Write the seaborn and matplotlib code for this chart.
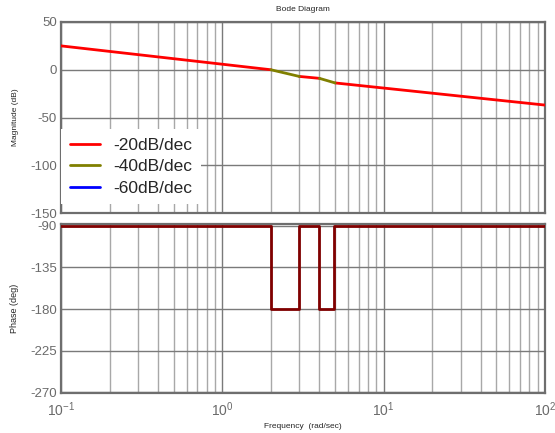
import numpy as np
import pandas as pd
import matplotlib
matplotlib.use("Agg")
import matplotlib.pyplot as plt
from matplotlib.lines import Line2D
from matplotlib.ticker import LogLocator, FixedLocator
import seaborn as sns

# --- DATA ---
mag_freq = [0.1, 2.0, 3.0, 4.0, 5.0, 100.0]
mag_db = [25.0, 0.0, -7.0, -9.0, -13.8, -37.0]
seg_slope = ["-20dB/dec", "-40dB/dec", "-20dB/dec", "-40dB/dec", "-20dB/dec"]

phase_freq = [0.1, 2.0, 3.0, 4.0, 4.9, 100.0]
phase_deg = [-90, -180, -90, -180, -90, -90]

legend_labels = ["-20dB/dec", "-40dB/dec", "-60dB/dec"]
slope_colors = {"-20dB/dec": "#ff0000", "-40dB/dec": "#808000", "-60dB/dec": "#0000ff"}

mag_ticks = [50, 0, -50, -100, -150]
phase_ticks = [-90, -135, -180, -225, -270]

# --- STYLE ---
sns.set_style("white")
plt.rcParams["font.family"] = ["Liberation Sans", "DejaVu Sans"]
plt.rcParams["axes.unicode_minus"] = False
plt.rcParams["mathtext.fontset"] = "custom"
plt.rcParams["mathtext.rm"] = "Liberation Sans"
plt.rcParams["mathtext.it"] = "Liberation Sans:italic"
plt.rcParams["mathtext.bf"] = "Liberation Sans:bold"

TICK_C = "#6a6a6a"
SPINE_C = "#6e6e6e"
MAJOR_C = "#7a7a7a"
MINOR_C = "#a8a8a8"

# build segment table for the magnitude plot
rows = []
for i, s in enumerate(seg_slope):
    rows.append((mag_freq[i], mag_db[i], i, s))
    rows.append((mag_freq[i + 1], mag_db[i + 1], i, s))
mag_df = pd.DataFrame(rows, columns=["freq", "mag", "seg", "slope"])

fig = plt.figure(figsize=(5.55, 4.33), dpi=100)
W, H = 555, 433
L, R = 61, 545
ax1 = fig.add_axes([L / W, 1 - 213 / H, (R - L) / W, (213 - 22) / H])
ax2 = fig.add_axes([L / W, 1 - 393.3 / H, (R - L) / W, (393.3 - 224.3) / H])

sns.lineplot(data=mag_df, x="freq", y="mag", hue="slope", units="seg",
             estimator=None, sort=False, palette=slope_colors, lw=2,
             legend=False, ax=ax1, zorder=3)
sns.lineplot(x=phase_freq, y=phase_deg, drawstyle="steps-post",
             color="#800000", lw=2, ax=ax2, zorder=3)

for ax in (ax1, ax2):
    ax.set_xscale("log")
    ax.set_xlim(0.1, 100)
    ax.xaxis.set_major_locator(LogLocator(base=10, numticks=10))
    ax.xaxis.set_minor_locator(LogLocator(base=10, subs=np.arange(2, 10), numticks=20))
    ax.grid(True, which="major", color=MAJOR_C, lw=1)
    ax.grid(True, which="minor", axis="x", color=MINOR_C, lw=1)
    ax.tick_params(which="both", length=0, colors=TICK_C, labelsize=9.5, pad=3)
    for sp in ax.spines.values():
        sp.set_color(SPINE_C)
        sp.set_linewidth(1.6)
    ax.set_axisbelow(True)

ax1.set_ylim(-150, 50)
ax1.yaxis.set_major_locator(FixedLocator(mag_ticks))
ax1.tick_params(axis="x", labelbottom=False)
ax1.set_xlabel("")
ax1.set_ylabel("Magnitude (dB)", fontsize=6)
ax1.yaxis.set_label_coords(-0.087, 0.5)
ax1.set_title("Bode Diagram", fontsize=6, pad=8)

ax2.set_ylim(-271, -88.5)
ax2.yaxis.set_major_locator(FixedLocator(phase_ticks))
ax2.set_ylabel("Phase (deg)", fontsize=6.5)
ax2.yaxis.set_label_coords(-0.087, 0.5)
ax2.set_xlabel("Frequency  (rad/sec)", fontsize=6, labelpad=3)
ax2.tick_params(axis="x", pad=5, labelsize=10)

handles = [Line2D([], [], color=slope_colors[k], lw=2) for k in legend_labels]
leg = ax1.legend(handles, legend_labels, loc="lower left", bbox_to_anchor=(0.0, 0.045),
                 fontsize=12.5, frameon=True, fancybox=False, borderaxespad=0,
                 handlelength=1.75, handletextpad=0.75, labelspacing=0.35,
                 borderpad=0.5)
leg.get_frame().set_edgecolor("none")
leg.get_frame().set_facecolor("white")
leg.get_frame().set_alpha(1)
leg.set_zorder(5)

fig.savefig("out.png", dpi=100)
